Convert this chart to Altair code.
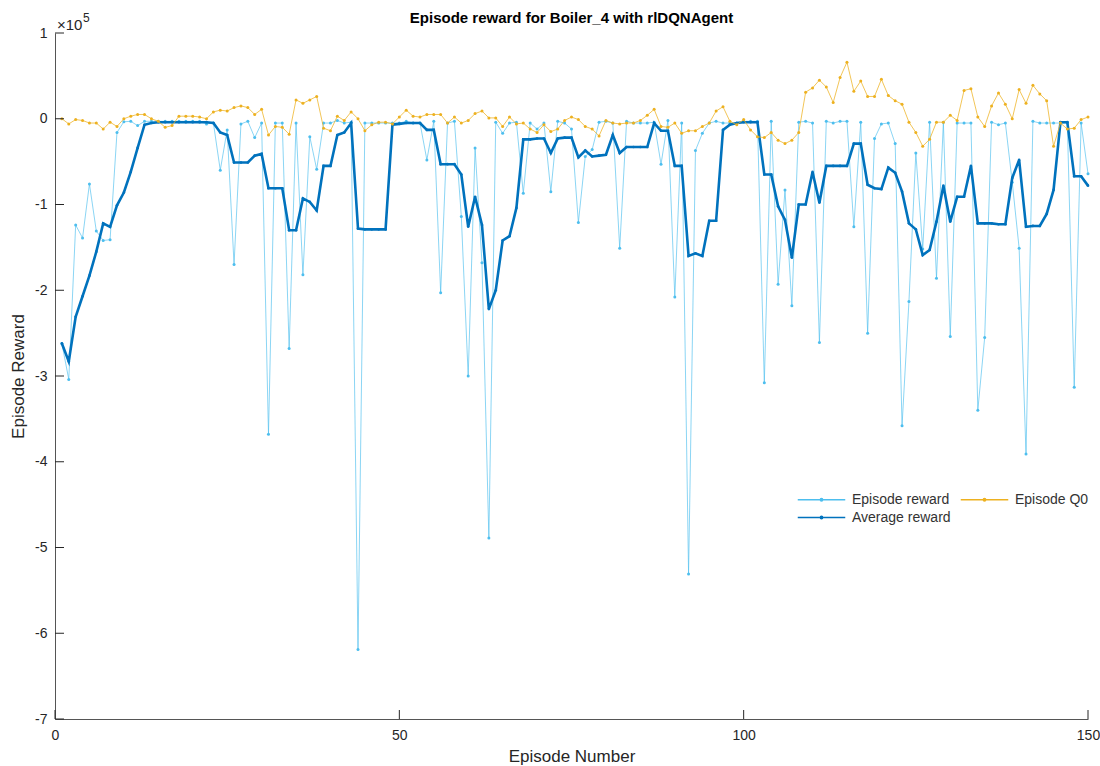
import altair as alt
import pandas as pd

# ---------------- data (values in units of 1e5) ----------------
episodes = list(range(1, 151))

episode_reward = [
    -2.62, -3.04, -1.24, -1.39, -0.76, -1.31, -1.42, -1.41, -0.16, -0.035,
    -0.03, -0.08, -0.03, -0.03, -0.03, -0.03, -0.03, -0.03, -0.03, -0.03,
    -0.03, -0.06, -0.05, -0.60, -0.13, -1.70, -0.06, -0.03, -0.22, -0.05,
    -3.68, -0.05, -0.05, -2.68, -0.05, -1.82, -0.21, -0.59, -0.05, -0.05,
    -0.02, -0.05, -0.04, -6.19, -0.05, -0.05, -0.05, -0.05, -0.05, -0.05,
    -0.03, -0.05, -0.05, -0.48, -0.03, -2.03, -0.05, -0.03, -1.14, -3.00,
    -0.34, -1.68, -4.89, -0.04, -0.17, -0.05, -0.04, -0.87, -0.05, -0.12,
    -0.05, -0.85, -0.03, -0.05, -0.12, -1.21, -0.44, -0.36, -0.04, -0.03,
    -0.05, -1.51, -0.03, -0.05, -0.05, -0.05, -0.04, -0.53, -0.02, -2.08,
    -0.05, -5.31, -0.37, -0.17, -0.05, -0.03, -0.05, -0.05, -0.05, -0.03,
    -0.03, -0.03, -3.08, -0.03, -1.93, -0.83, -2.18, -0.04, -0.03, -0.05,
    -2.61, -0.03, -0.05, -0.03, -0.03, -1.26, -0.04, -2.50, -0.23, -0.06,
    -0.05, -0.29, -3.58, -2.13, -0.40, -1.52, -0.04, -1.86, -0.04, -2.54,
    -0.05, -0.05, -0.05, -3.40, -2.55, -0.04, -0.07, -0.05, -0.74, -1.51,
    -3.91, -0.03, -0.05, -0.05, -0.05, -0.05, -0.05, -3.13, -0.05, -0.64,
]

average_reward = [
    -2.62, -2.83, -2.31, -2.07, -1.83, -1.55, -1.22, -1.26, -1.01, -0.86,
    -0.62, -0.34, -0.07, -0.05, -0.04, -0.04, -0.04, -0.04, -0.04, -0.04,
    -0.04, -0.04, -0.05, -0.16, -0.19, -0.51, -0.51, -0.51, -0.43, -0.41,
    -0.81, -0.81, -0.81, -1.30, -1.30, -0.93, -0.97, -1.07, -0.55, -0.55,
    -0.19, -0.16, -0.05, -1.28, -1.29, -1.29, -1.29, -1.29, -0.07, -0.06,
    -0.05, -0.05, -0.05, -0.13, -0.13, -0.53, -0.53, -0.53, -0.65, -1.26,
    -0.91, -1.24, -2.22, -2.00, -1.42, -1.37, -1.04, -0.24, -0.24, -0.23,
    -0.23, -0.40, -0.23, -0.22, -0.22, -0.45, -0.37, -0.44, -0.43, -0.42,
    -0.19, -0.40, -0.33, -0.33, -0.33, -0.33, -0.05, -0.14, -0.14, -0.55,
    -0.55, -1.60, -1.57, -1.60, -1.19, -1.19, -0.13, -0.07, -0.05, -0.04,
    -0.04, -0.04, -0.65, -0.65, -1.02, -1.18, -1.62, -1.00, -1.00, -0.62,
    -0.98, -0.55, -0.55, -0.55, -0.55, -0.29, -0.29, -0.77, -0.81, -0.82,
    -0.57, -0.63, -0.85, -1.22, -1.29, -1.59, -1.53, -1.20, -0.78, -1.20,
    -0.91, -0.91, -0.55, -1.22, -1.22, -1.22, -1.23, -1.23, -0.69, -0.48,
    -1.26, -1.25, -1.25, -1.11, -0.83, -0.04, -0.04, -0.67, -0.67, -0.78,
]

episode_q0 = [
    0.00, -0.06, -0.01, -0.02, -0.05, -0.05, -0.12, -0.04, -0.09, 0.00,
    0.03, 0.05, 0.05, 0.00, -0.03, -0.10, -0.08, 0.03, 0.03, 0.03,
    0.02, 0.00, 0.08, 0.10, 0.09, 0.13, 0.15, 0.13, 0.05, 0.11,
    -0.19, -0.09, -0.10, -0.18, 0.22, 0.18, 0.22, 0.26, -0.11, -0.14,
    0.03, -0.02, 0.08, 0.00, -0.14, -0.07, -0.04, -0.04, -0.06, 0.02,
    0.10, 0.03, 0.02, 0.05, 0.05, 0.05, -0.05, 0.02, -0.05, -0.02,
    0.06, 0.09, 0.01, 0.01, -0.09, 0.02, -0.06, -0.05, -0.12, -0.16,
    -0.07, -0.15, -0.12, -0.02, 0.02, -0.01, -0.09, -0.12, -0.20, -0.02,
    -0.05, -0.06, -0.05, -0.05, -0.02, 0.04, 0.11, -0.09, -0.10, -0.05,
    -0.17, -0.14, -0.14, -0.09, -0.05, 0.09, 0.14, -0.03, -0.07, -0.01,
    -0.13, -0.21, -0.22, -0.16, -0.25, -0.29, -0.25, -0.16, 0.31, 0.36,
    0.45, 0.37, 0.19, 0.48, 0.66, 0.32, 0.44, 0.26, 0.26, 0.46,
    0.27, 0.21, 0.17, -0.04, -0.16, -0.32, -0.24, -0.04, -0.04, 0.04,
    -0.02, 0.33, 0.35, 0.02, -0.09, 0.15, 0.30, 0.17, 0.00, 0.34,
    0.18, 0.39, 0.29, 0.21, -0.32, -0.05, -0.12, -0.11, -0.01, 0.02,
]

series_names = ["Episode reward", "Episode Q0", "Average reward"]
series_colors = ["#4DBEEE", "#EDB120", "#0072BD"]
x_ticks = [0, 50, 100, 150]
y_ticks = [-7, -6, -5, -4, -3, -2, -1, 0, 1]
title_text = "Episode reward for Boiler_4 with rlDQNAgent"
exponent_base = "×10"
exponent_power = "5"

# ---------------- build table ----------------
rows = []
for name, vals in [("Episode reward", episode_reward),
                   ("Average reward", average_reward),
                   ("Episode Q0", episode_q0)]:
    for e, v in zip(episodes, vals):
        rows.append({"episode": e, "value": v, "series": name})
df = pd.DataFrame(rows)

W, H = 1033, 686
FONT = "Liberation Sans"
INK = "#262626"

x_enc = alt.X("episode:Q",
              scale=alt.Scale(domain=[0, 150], nice=False, zero=False),
              axis=alt.Axis(values=x_ticks, title="Episode Number", grid=False,
                            tickSize=0, labelPadding=9, titlePadding=6,
                            labelFontSize=14, titleFontSize=17,
                            titleFontWeight="normal", labelColor=INK,
                            titleColor=INK, domainColor="#555555",
                            labelFont=FONT, titleFont=FONT, labelFlush=False))
y_enc = alt.Y("value:Q",
              scale=alt.Scale(domain=[-7, 1], nice=False, zero=False),
              axis=alt.Axis(values=y_ticks, title="Episode Reward", grid=False,
                            tickSize=0, labelPadding=8, titlePadding=7,
                            labelExpr="datum.value < 0 ? '-' + abs(datum.value) : '' + datum.value",
                            labelFontSize=14, titleFontSize=17,
                            titleFontWeight="normal", labelColor=INK,
                            titleColor=INK, domainColor="#555555",
                            labelFont=FONT, titleFont=FONT, labelFlush=False))

legend = alt.Legend(
    title=None, orient="none", legendX=756, legendY=456,
    columns=2, columnPadding=6, rowPadding=0, padding=0,
    symbolType="M-2.5,0H2.5M-0.12,0A0.12,0.12,0,1,0,0.12,0A0.12,0.12,0,1,0,-0.12,0",
    symbolSize=361, symbolStrokeWidth=1.6, labelOffset=20, labelFontSize=14,
    labelColor="#333333", labelFont=FONT, direction="horizontal",
)

color_enc = alt.Color("series:N",
                      scale=alt.Scale(domain=series_names, range=series_colors),
                      legend=legend)


def series_layers(name, line_width, line_opacity, point_size):
    base = alt.Chart(df).transform_filter(alt.datum.series == name)
    line = base.mark_line(strokeWidth=line_width, strokeOpacity=line_opacity).encode(
        x=x_enc, y=y_enc, color=color_enc, order="episode:Q")
    pts = base.mark_point(filled=True, size=point_size, opacity=1).encode(
        x=x_enc, y=y_enc, color=color_enc)
    return [line, pts]


layers = []
layers += series_layers("Episode reward", 1.0, 0.65, 9)
layers += series_layers("Average reward", 2.6, 1.0, 7)
layers += series_layers("Episode Q0", 1.0, 0.75, 9)

# inward tick marks
xt = alt.Chart(pd.DataFrame({"episode": x_ticks})).mark_rule(color=INK, strokeWidth=1).encode(
    x=x_enc, y=alt.value(H), y2=alt.value(H - 9))
yt = alt.Chart(pd.DataFrame({"value": y_ticks})).mark_rule(color=INK, strokeWidth=1).encode(
    y=y_enc, x=alt.value(0), x2=alt.value(9))

expo1 = alt.Chart(pd.DataFrame({"t": [exponent_base]})).mark_text(
    align="left", baseline="alphabetic", fontSize=15, font=FONT, color=INK).encode(
    x=alt.value(2), y=alt.value(-3), text="t:N")
expo2 = alt.Chart(pd.DataFrame({"t": [exponent_power]})).mark_text(
    align="left", baseline="alphabetic", fontSize=12, font=FONT, color=INK).encode(
    x=alt.value(28), y=alt.value(-11), text="t:N")

chart = alt.layer(*layers, xt, yt, expo1, expo2).properties(
    width=W, height=H,
    title=alt.TitleParams(title_text, fontSize=15, fontWeight="bold", font=FONT,
                          color="#000000", anchor="middle", offset=8, dy=22),
    autosize=alt.AutoSizeParams(type="none"),
    padding={"left": 55, "top": 33, "right": 12, "bottom": 47},
).configure(background="white", view=alt.ViewConfig(stroke=None))

chart.save("out.html", embed_options={"renderer": "svg", "actions": False})
